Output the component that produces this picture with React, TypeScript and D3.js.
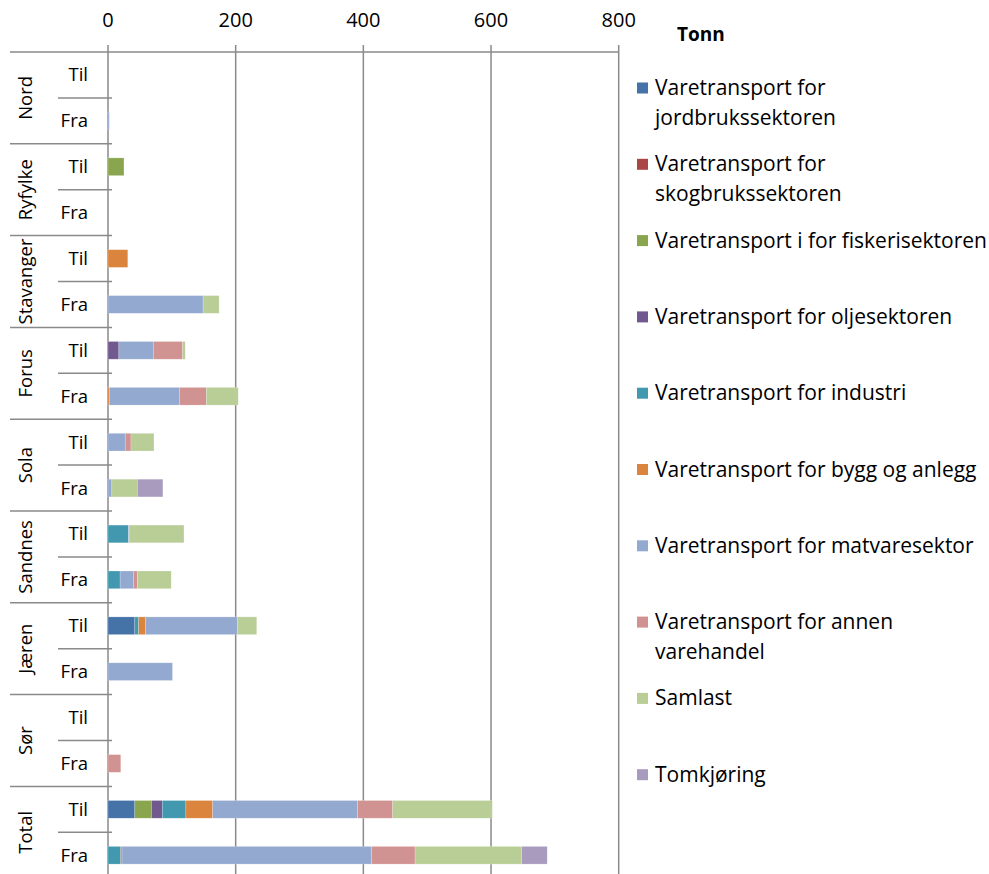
import React from "react";
import * as d3 from "d3";

const regions = ["Nord", "Ryfylke", "Stavanger", "Forus", "Sola", "Sandnes", "Jæren", "Sør", "Total"];
const directions = ["Til", "Fra"];
const xTicks = [0, 200, 400, 600, 800];

const seriesNames = [
  ["Varetransport for", "jordbrukssektoren"],
  ["Varetransport for", "skogbrukssektoren"],
  ["Varetransport i for fiskerisektoren"],
  ["Varetransport for oljesektoren"],
  ["Varetransport for industri"],
  ["Varetransport for bygg og anlegg"],
  ["Varetransport for matvaresektor"],
  ["Varetransport for annen", "varehandel"],
  ["Samlast"],
  ["Tomkjøring"],
];
const colors = ["#4572A7", "#AA4643", "#89A54E", "#71588F", "#4198AF", "#DB843D", "#93A9D0", "#D19392", "#B9CD96", "#A99BBD"];

// Row order: Nord Til, Nord Fra, Ryfylke Til, Ryfylke Fra, ... Total Til, Total Fra
const jordbruk = [0, 0, 0, 0, 0, 0, 0, 0, 0, 0, 0, 0, 42, 0, 0, 0, 42, 0];
const skogbruk = [0, 0, 0, 0, 0, 0, 0, 0, 0, 0, 0, 0, 0, 0, 0, 0, 0, 0];
const fiskeri = [0, 0, 25, 0, 0, 0, 0, 0, 0, 0, 0, 0, 0, 0, 0, 0, 26, 0];
const olje = [0, 0, 0, 0, 0, 0, 17, 0, 0, 0, 0, 0, 0, 0, 0, 0, 17, 0];
const industri = [0, 0, 0, 0, 0, 0, 0, 0, 0, 0, 32, 19, 6, 0, 0, 0, 37, 20];
const bygg = [0, 0, 0, 0, 31, 0, 0, 2, 0, 0, 0, 0, 11, 0, 0, 0, 42, 2];
const matvare = [0, 2, 0, 0, 0, 149, 54, 110, 27, 6, 1, 21, 144, 101, 0, 0, 227, 391];
const annen = [0, 0, 0, 0, 0, 0, 46, 42, 9, 0, 0, 6, 0, 0, 0, 20, 55, 68];
const samlast = [0, 0, 0, 0, 0, 25, 4, 50, 36, 40, 86, 53, 30, 0, 0, 0, 156, 167];
const tomkjoring = [0, 0, 0, 0, 0, 0, 0, 0, 0, 40, 0, 0, 0, 0, 0, 0, 0, 40];

const seriesValues = [jordbruk, skogbruk, fiskeri, olje, industri, bygg, matvare, annen, samlast, tomkjoring];

const FONT = "'Open Sans', 'DejaVu Sans', sans-serif";
const GRID = "#8a8a8a";

export default function App() {
  const rowKeys: string[] = [];
  regions.forEach((r) => directions.forEach((d) => rowKeys.push(r + "|" + d)));

  const x = d3.scaleLinear().domain([0, 800]).range([108, 618.7]);
  const y = d3.scaleBand<string>().domain(rowKeys).range([52, 52 + 18 * 45.9]).paddingInner(0).paddingOuter(0);
  const bw = y.bandwidth();
  const barH = 17.7;

  const table = rowKeys.map((k, i) => {
    const o: any = { key: k };
    seriesValues.forEach((s, j) => (o["s" + j] = s[i]));
    return o;
  });
  const stack = d3.stack<any>().keys(seriesValues.map((_, j) => "s" + j));
  const stacked = stack(table);

  const bottom = 874;

  return (
    <svg width={989} height={874} style={{ position: "absolute", left: 0, top: 0, background: "#fff" }} fontFamily={FONT}>
      <rect x={0} y={0} width={989} height={874} fill="#fff" />
      {/* grid lines */}
      {xTicks.map((t) => (
        <g key={t}>
          <line x1={x(t)} x2={x(t)} y1={45} y2={bottom} stroke={GRID} strokeWidth={1.5} />
          <text x={x(t)} y={27} textAnchor="middle" fontSize={20} fill="#000">{t}</text>
        </g>
      ))}
      {/* top axis line */}
      <line x1={10} x2={x(800)} y1={52} y2={52} stroke={GRID} strokeWidth={1.5} />
      {/* bars */}
      {stacked.map((layer, j) => (
        <g key={j} fill={colors[j]}>
          {layer.map((d, i) => {
            const w = x(d[1]) - x(d[0]);
            if (w <= 0) return null;
            return (
              <rect key={i} x={x(d[0])} y={(y(rowKeys[i]) as number) + (bw - barH) / 2} width={w} height={barH} stroke="#ffffff" strokeOpacity={0.35} strokeWidth={0.6} />
            );
          })}
        </g>
      ))}
      {/* category axis structure */}
      {regions.map((r, gi) => {
        const top = y(r + "|Til") as number;
        const mid = y(r + "|Fra") as number;
        const end = mid + bw;
        const cy = (top + end) / 2;
        return (
          <g key={r}>
            <line x1={58} x2={112} y1={mid} y2={mid} stroke={GRID} strokeWidth={1.5} />
            {gi < regions.length - 1 && <line x1={10} x2={112} y1={end} y2={end} stroke={GRID} strokeWidth={1.5} />}
            <text transform={`translate(31.5,${cy}) rotate(-90)`} textAnchor="middle" fontSize={18.5} fill="#000">{r}</text>
            {directions.map((d) => (
              <text key={d} x={88} y={(y(r + "|" + d) as number) + bw / 2 + 6.5} textAnchor="end" fontSize={18.5} fill="#000">{d}</text>
            ))}
          </g>
        );
      })}
      {/* legend */}
      <text x={677} y={41} fontSize={19} fontWeight="bold" fill="#000">Tonn</text>
      {seriesNames.map((lines, j) => {
        const cy = 88 + j * 76.3;
        return (
          <g key={j}>
            <rect x={637} y={cy - 5.5} width={11} height={11} fill={colors[j]} />
            {lines.map((ln, li) => (
              <text key={li} x={655} y={cy + 7 + li * 30} fontSize={21} fill="#000">{ln}</text>
            ))}
          </g>
        );
      })}
    </svg>
  );
}
